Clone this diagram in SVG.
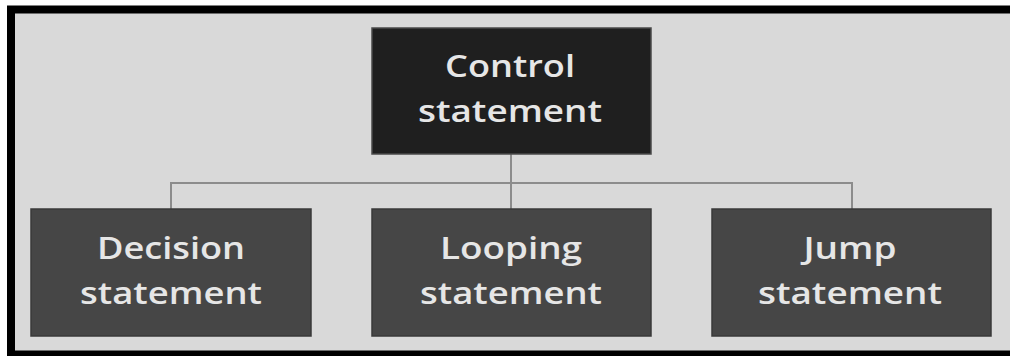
<svg xmlns="http://www.w3.org/2000/svg" width="1010" height="356" viewBox="0 0 1010 356">
<style>
.lbl{font-family:"Open Sans","Noto Sans",sans-serif;font-size:31px;font-weight:600;fill:#e6e6e6;text-anchor:middle}
.top{fill:#1f1f1f;stroke:#4a4a4a;stroke-width:1.5}
.child{fill:#464646;stroke:#3a3a3a;stroke-width:1.5}
.conn{stroke:#8c8c8c;stroke-width:2;fill:none}
</style>
<rect x="0" y="0" width="1010" height="356" fill="#ffffff"/>
<rect x="11" y="9.5" width="1010" height="345" fill="#d9d9d9" stroke="#000000" stroke-width="8"/>
<g id="connectors">
<path class="conn" d="M511 154V209M171 209V183H852V209"/>
</g>
<g id="control">
<rect class="top" x="372" y="28" width="279" height="126"/>
<text class="lbl" x="510" y="77" textLength="130" lengthAdjust="spacingAndGlyphs">Control</text>
<text class="lbl" x="510" y="122" textLength="184" lengthAdjust="spacingAndGlyphs">statement</text>
</g>
<g id="decision">
<rect class="child" x="31" y="209" width="280" height="127"/>
<text class="lbl" x="171" y="259" textLength="148" lengthAdjust="spacingAndGlyphs">Decision</text>
<text class="lbl" x="171" y="304" textLength="182" lengthAdjust="spacingAndGlyphs">statement</text>
</g>
<g id="looping">
<rect class="child" x="372" y="209" width="279" height="127"/>
<text class="lbl" x="511" y="259" textLength="142" lengthAdjust="spacingAndGlyphs">Looping</text>
<text class="lbl" x="511" y="304" textLength="182" lengthAdjust="spacingAndGlyphs">statement</text>
</g>
<g id="jump">
<rect class="child" x="712" y="209" width="279" height="127"/>
<text class="lbl" x="850" y="259" textLength="93" lengthAdjust="spacingAndGlyphs">Jump</text>
<text class="lbl" x="850" y="304" textLength="184" lengthAdjust="spacingAndGlyphs">statement</text>
</g>
</svg>
